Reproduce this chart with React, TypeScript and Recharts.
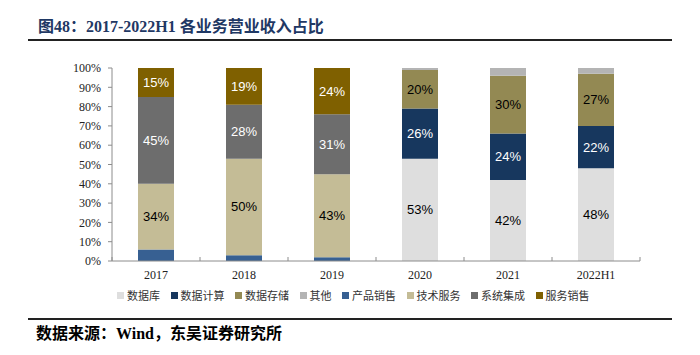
import { BarChart, Bar, XAxis, YAxis, LabelList } from 'recharts'

const years = ['2017', '2018', '2019', '2020', '2021', '2022H1']
const database = [0, 0, 0, 53, 42, 48]
const dataCompute = [0, 0, 0, 26, 24, 22]
const dataStorage = [0, 0, 0, 20, 30, 27]
const others = [0, 0, 0, 1, 4, 3]
const productSales = [6, 3, 2, 0, 0, 0]
const techService = [34, 50, 43, 0, 0, 0]
const sysIntegration = [45, 28, 31, 0, 0, 0]
const serviceSales = [15, 19, 24, 0, 0, 0]
const yTicks = [0, 10, 20, 30, 40, 50, 60, 70, 80, 90, 100]

const series = [
  { key: 'db', name: '数据库', values: database, color: '#DEDEDE', text: '#000' },
  { key: 'compute', name: '数据计算', values: dataCompute, color: '#17375E', text: '#fff' },
  { key: 'storage', name: '数据存储', values: dataStorage, color: '#938953', text: '#000' },
  { key: 'other', name: '其他', values: others, color: '#B4B4B4', text: '#000' },
  { key: 'product', name: '产品销售', values: productSales, color: '#376092', text: '#fff' },
  { key: 'tech', name: '技术服务', values: techService, color: '#C4BC96', text: '#000' },
  { key: 'integration', name: '系统集成', values: sysIntegration, color: '#6D6D6D', text: '#fff' },
  { key: 'service', name: '服务销售', values: serviceSales, color: '#7F6000', text: '#fff' },
]

const data = years.map((year, i) => {
  const row: Record<string, string | number> = { year }
  series.forEach((s) => (row[s.key] = s.values[i]))
  return row
})

const PLOT_W = 528
const HALF_BAND = PLOT_W / years.length / 2
const serif = '"Liberation Serif", "Times New Roman", serif'
const cjk = '"Liberation Serif", "Noto Sans CJK SC", serif'

const XTick = (props: any) => {
  const { x, y, payload, index } = props
  const axisY = y - 8
  return (
    <g>
      <line x1={x - HALF_BAND} x2={x - HALF_BAND} y1={axisY - 4} y2={axisY} stroke="#8c8c8c" />
      {index === years.length - 1 && (
        <line x1={x + HALF_BAND} x2={x + HALF_BAND} y1={axisY - 4} y2={axisY} stroke="#8c8c8c" />
      )}
      <text x={x} y={y} dy={10} textAnchor="middle" fontFamily={serif} fontSize={12} fill="#222">
        {payload.value}
      </text>
    </g>
  )
}

// small slices (产品销售, 其他) carry no label in the original
const segLabel = (color: string) => (p: any) => {
  const { x, y, width, height, value } = p
  if (!value || value < 8) return null
  return (
    <text
      x={x + width / 2}
      y={y + height / 2}
      textAnchor="middle"
      dominantBaseline="central"
      fontFamily='"Liberation Sans", Arial, sans-serif'
      fontSize={13}
      fill={color}
    >
      {value}%
    </text>
  )
}

export default function App() {
  return (
    <div style={{ position: 'relative', width: 700, height: 355, background: '#fff' }}>
      <style>{'body{margin:0}'}</style>
      <div
        style={{
          position: 'absolute',
          left: 38,
          top: 13,
          fontFamily: cjk,
          fontWeight: 'bold',
          fontSize: 16,
          color: '#1F3864',
          whiteSpace: 'nowrap',
        }}
      >
        图48：2017-2022H1 各业务营业收入占比
      </div>
      <div style={{ position: 'absolute', left: 28, top: 39, width: 644, height: 2, background: '#222' }} />

      <div style={{ position: 'absolute', left: 0, top: 0 }}>
        <BarChart width={700} height={290} data={data} margin={{ top: 68, right: 60, left: 62, bottom: 4 }}>
          <YAxis
            width={50}
            domain={[0, 100]}
            ticks={yTicks}
            interval={0}
            tickFormatter={(v) => `${v}%`}
            tick={{ fontFamily: serif, fontSize: 12, fill: '#222' }}
            axisLine={{ stroke: '#8c8c8c' }}
            tickLine={{ stroke: '#8c8c8c' }}
            tickSize={4}
            tickMargin={7}
          />
          <XAxis
            dataKey="year"
            height={25}
            interval={0}
            axisLine={{ stroke: '#8c8c8c' }}
            tickLine={false}
            tickSize={0}
            tickMargin={8}
            tick={<XTick />}
          />
          {series.map((s) => (
            <Bar key={s.key} dataKey={s.key} name={s.name} stackId="a" fill={s.color} barSize={36} isAnimationActive={false}>
              <LabelList dataKey={s.key} content={segLabel(s.text)} />
            </Bar>
          ))}
        </BarChart>
      </div>

      <div
        style={{
          position: 'absolute',
          left: 117,
          top: 287,
          display: 'flex',
          alignItems: 'center',
          fontFamily: '"Noto Sans CJK SC", serif',
          fontSize: 11,
          color: '#333',
          whiteSpace: 'nowrap',
        }}
      >
        {series.map((s) => (
          <div key={s.key} style={{ display: 'flex', alignItems: 'center', marginRight: 10.5 }}>
            <span style={{ width: 7, height: 7, background: s.color, marginRight: 3, display: 'inline-block' }} />
            <span>{s.name}</span>
          </div>
        ))}
      </div>

      <div style={{ position: 'absolute', left: 28, top: 318, width: 644, height: 2, background: '#222' }} />
      <div
        style={{
          position: 'absolute',
          left: 36,
          top: 320,
          fontFamily: cjk,
          fontWeight: 'bold',
          fontSize: 16,
          color: '#000',
          whiteSpace: 'nowrap',
        }}
      >
        数据来源：Wind，东吴证券研究所
      </div>
    </div>
  )
}
